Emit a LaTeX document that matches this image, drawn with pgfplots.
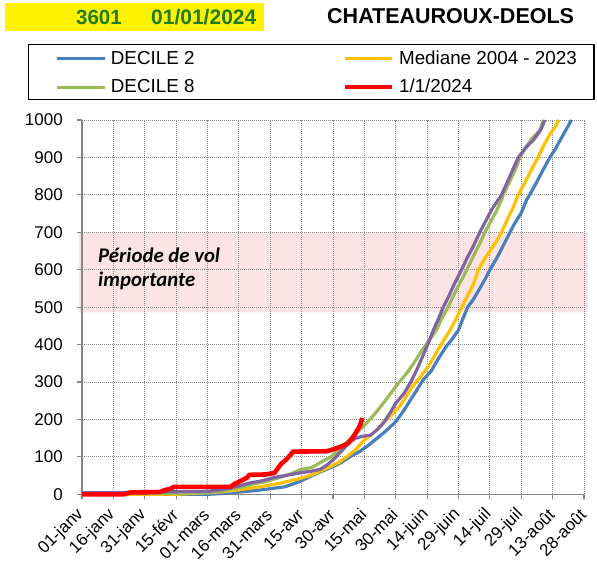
\documentclass[border=0pt]{standalone}
\usepackage{fontspec}
\setmainfont{Liberation Sans}
\newfontfamily\calibri{Carlito}
\usepackage{pgfplots}
\pgfplotsset{compat=1.18}
\definecolor{dtwo}{HTML}{4A7EBB}
\definecolor{med}{HTML}{FFC000}
\definecolor{deight}{HTML}{9BBB59}
\definecolor{pur}{HTML}{8064A2}
\definecolor{axgray}{HTML}{868686}
\definecolor{gridgray}{HTML}{8A8A8A}
\definecolor{band}{HTML}{FDE4E4}
\definecolor{dkgreen}{HTML}{1E7D1E}
\begin{document}
\begin{tikzpicture}[x=1pt,y=1pt]
\fill[yellow] (4.6,540) rectangle (263.9,567.7);
\node[anchor=base west, inner sep=0pt, text=dkgreen, font=\fontsize{20.5}{24}\selectfont\bfseries] at (76,546) {3601};
\node[anchor=base west, inner sep=0pt, text=dkgreen, font=\fontsize{21}{24}\selectfont\bfseries] at (151,546) {01/01/2024};
\node[anchor=base west, inner sep=0pt, font=\fontsize{21.5}{24}\selectfont\bfseries] at (327,547.7) {CHATEAUROUX-DEOLS};
\begin{axis}[
  at={(82pt,76.7pt)}, anchor=south west, scale only axis,
  width=502pt, height=374.3pt,
  xmin=0, xmax=240, ymin=0, ymax=1000,
  set layers, clip=false,
  axis lines=left,
  axis line style={-, draw=axgray, line width=1.5pt},
  tick align=outside, major tick length=5pt,
  tick style={draw=axgray, line width=1.2pt},
  grid=major,
  major grid style={draw=gridgray, line width=0.8pt, dash pattern=on 1pt off 1pt},
  xtick={0,15,...,240},
  xticklabels={01-janv,16-janv,31-janv,15-févr,01-mars,16-mars,31-mars,15-avr,30-avr,15-mai,30-mai,14-juin,29-juin,14-juil,29-juil,13-août,28-août},
  ytick={0,100,...,1000},
  /pgf/number format/assume math mode=true,
  /pgf/number format/1000 sep={},
  tick label style={font=\fontsize{17}{20}\selectfont},
  xticklabel style={xshift=-1pt, yshift=-12.5pt, rotate=45, anchor=east, inner sep=0pt},
  yticklabel style={anchor=east, inner sep=0pt, xshift=-14pt},
  legend columns=2,
  legend style={at={(-0.05279,1.1902)}, anchor=north west, draw=none, fill=none,
    inner xsep=0pt, inner ysep=0pt, font=\fontsize{18.8}{22}\selectfont,
    nodes={inner sep=2pt, text depth=0.2em}, row sep=8.7pt,
    /tikz/every odd column/.append style={column sep=2.5pt}},
  legend image code/.code={\draw[#1] (0pt,0pt) -- (47.5pt,0pt);},
  legend cell align=left,
]
\addplot[draw=none, fill=band, forget plot, on layer=axis background] coordinates {(-1.5,486) (242,486) (242,700) (-1.5,700) (-1.5,486)};
\node[anchor=base west, inner sep=0pt, font=\calibri\fontsize{20.8}{22}\selectfont\bfseries\itshape] at (axis cs:7.65,618) {Période de vol};
\node[anchor=base west, inner sep=0pt, font=\calibri\fontsize{20.8}{22}\selectfont\bfseries\itshape] at (axis cs:7.65,555) {importante};

\addplot[dtwo, line width=3.2pt] coordinates {(0,0)(60,0)(67,2)(75,6)(83,10)(90,15)(97,20)(102,30)(104,34)(110,50)(114,60)(120,74)(124,85)(128,100)(132,112)(136,127)(140,145)(144,163)(147,178)(150,194)(154,225)(157,252)(160,278)(163,305)(167,330)(170,359)(174,394)(177,415)(180,439)(182,468)(184.4,500)(187,520)(190,548)(193,578)(195,600)(198,628)(201,660)(204.6,700)(207,725)(210,752)(212.6,787)(214,800)(217,830)(220,862)(223.7,900)(226,920)(229,950)(231,970)(234,1000)};
\addlegendentry{\makebox[229.6pt][l]{DECILE 2}}
\addplot[med, line width=3.2pt] coordinates {(0,0)(45,0)(52,2)(66,6)(75,12)(85,20)(95,30)(104,42)(110,52)(114,62)(118,72)(123,86)(127,102)(131,120)(134,140)(136,150)(140,167)(144,190)(148,212)(152,236)(155,262)(158,288)(162,315)(166,345)(171,394)(176,439)(179,470)(181.5,500)(184,527)(187,560)(189.5,600)(192,625)(195,650)(198,675)(200.6,700)(203,730)(206,765)(208.6,800)(211,825)(214,858)(218,900)(221,935)(224,965)(226,980)(228,1000)};
\addlegendentry{\makebox[185pt][l]{Mediane 2004 - 2023}}
\addplot[deight, line width=3.2pt] coordinates {(0,1)(30,2)(50,3)(60,4)(67,8)(72,14)(77,20)(82,28)(88,34)(94,44)(100,55)(104,65)(110,72)(114,85)(119,100)(124,125)(128,146)(132,168)(136,190)(140,215)(144,243)(147,265)(150,288)(154,315)(158,345)(162,380)(166,412)(169.5,439)(172,470)(175,500)(178,535)(181,568)(184,600)(187,635)(190,668)(192.6,700)(195,725)(198,755)(200.6,787)(201.4,800)(204,830)(207,865)(209.4,900)(212,925)(215,950)(219,973)(220.5,1000)};
\addlegendentry{\makebox[229.6pt][l]{DECILE 8}}
\addplot[pur, line width=3.2pt, forget plot] coordinates {(0,4)(30,5)(45,7)(60,8)(66,12)(70,16)(75,22)(80,30)(86,36)(92,45)(99,52)(104,57)(110,62)(114,67)(117,78)(120,92)(124,115)(128,140)(131,150)(134,155)(138,158)(141,172)(144,190)(147,215)(150,243)(154,270)(157,298)(160,332)(163,370)(166,410)(168,439)(170.5,470)(172.7,500)(175,525)(178,562)(181.5,600)(184,630)(187,662)(190.2,700)(193,730)(196,762)(199,787)(200.6,800)(203,830)(206,868)(208.6,900)(212,925)(216,948)(219.3,973)(221.3,1000)};
\addplot[red, line width=4.6pt] coordinates {(0,0)(20,0)(23,5)(37,6)(40,12)(42,14)(44,20)(71,20)(73,28)(76,36)(79,45)(80,52)(88,53)(92,57)(95,80)(98,95)(101,114)(117,115)(120,120)(124,128)(127,135)(129,148)(131,165)(133,185)(134,204)};
\addlegendentry{\makebox[185pt][l]{1/1/2024}}
\end{axis}
\draw[black, line width=1.3pt] (28.6,471.7) rectangle (594,526.7);
\pgfresetboundingbox
\path[use as bounding box] (0,0) rectangle (597,571);
\end{tikzpicture}
\end{document}
